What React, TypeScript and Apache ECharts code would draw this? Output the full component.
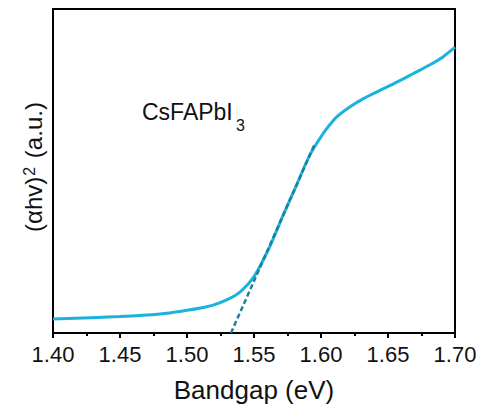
import React, { useEffect, useRef } from "react";
import * as echarts from "echarts";

// Photon energy (eV) and (αhν)² in arbitrary units (0–100 scale)
const bandgapEnergy = [
  1.4, 1.45, 1.48, 1.5, 1.51, 1.52, 1.53, 1.54, 1.55, 1.561, 1.572, 1.582,
  1.592, 1.602, 1.607, 1.612, 1.622, 1.632, 1.644, 1.657, 1.669, 1.681, 1.691,
  1.7,
];
const absorption = [
  4.3, 5.1, 5.9, 7.0, 7.7, 8.7, 10.3, 12.8, 17.4, 26.0, 36.6, 45.9, 55.2, 61.8,
  64.5, 66.8, 69.9, 72.4, 74.9, 77.5, 80.1, 82.7, 85.2, 88.2,
];
// Tauc extrapolation line (x, y)
const fitX = [1.5328, 1.5955];
const fitY = [0, 58.5];

const xTickMin = 1.4;
const xTickMax = 1.7;
const xTickStep = 0.05;

const FONT = "'Liberation Sans', Arial, sans-serif";

export default function App() {
  const ref = useRef<HTMLDivElement>(null);
  useEffect(() => {
    if (!ref.current) return;
    const chart = echarts.init(ref.current, undefined, { renderer: "svg" });
    chart.setOption({
      animation: false,
      backgroundColor: "#fff",
      grid: {
        left: 53,
        right: 28,
        top: 9,
        bottom: 79,
        show: true,
        borderColor: "#000",
        borderWidth: 2,
      },
      xAxis: {
        type: "value",
        min: xTickMin,
        max: xTickMax,
        interval: xTickStep,
        name: "Bandgap (eV)",
        nameLocation: "middle",
        nameGap: 44,
        nameTextStyle: { fontSize: 26, color: "#111", fontFamily: FONT },
        axisLine: { show: true, lineStyle: { color: "#000", width: 2 } },
        axisTick: { show: true, inside: false, length: 5, lineStyle: { color: "#000", width: 2 } },
        minorTick: { show: true, splitNumber: 2, length: 3, lineStyle: { color: "#000", width: 2 } },
        splitLine: { show: false },
        axisLabel: {
          margin: 10,
          fontSize: 22,
          color: "#111",
          fontFamily: FONT,
          formatter: (v: number) => v.toFixed(2),
        },
      },
      yAxis: {
        type: "value",
        min: 0,
        max: 100,
        name: "(αhv){sup|2} (a.u.)",
        nameLocation: "middle",
        nameGap: 8,
        nameTextStyle: {
          fontSize: 24,
          color: "#111",
          fontFamily: FONT,
          padding: [0, 0, 0, 8],
          rich: {
            sup: { fontSize: 16, verticalAlign: "top", color: "#111", fontFamily: FONT, padding: [0, 2, 0, 1] },
          },
        },
        axisLine: { show: true, lineStyle: { color: "#000", width: 2 } },
        axisTick: { show: false },
        axisLabel: { show: false },
        splitLine: { show: false },
      },
      graphic: [
        {
          type: "text",
          left: 142,
          top: 100,
          style: { text: "CsFAPbI", font: `23px ${FONT}`, fill: "#111" },
        },
        {
          type: "text",
          left: 236,
          top: 117,
          style: { text: "3", font: `16px ${FONT}`, fill: "#111" },
        },
      ],
      series: [
        {
          type: "line",
          data: fitX.map((x, i) => [x, fitY[i]]),
          showSymbol: false,
          symbol: "none",
          lineStyle: { color: "#1F7F98", width: 2.5, type: [5, 3] },
          z: 3,
        },
        {
          type: "line",
          data: bandgapEnergy.map((x, i) => [x, absorption[i]]),
          smooth: 0.3,
          showSymbol: false,
          symbol: "none",
          lineStyle: { color: "#1BB3DD", width: 3 },
          z: 2,
        },
      ],
    });
    return () => chart.dispose();
  }, []);
  return (
    <div
      ref={ref}
      style={{ position: "absolute", left: 0, top: 0, width: 483, height: 412 }}
    />
  );
}
